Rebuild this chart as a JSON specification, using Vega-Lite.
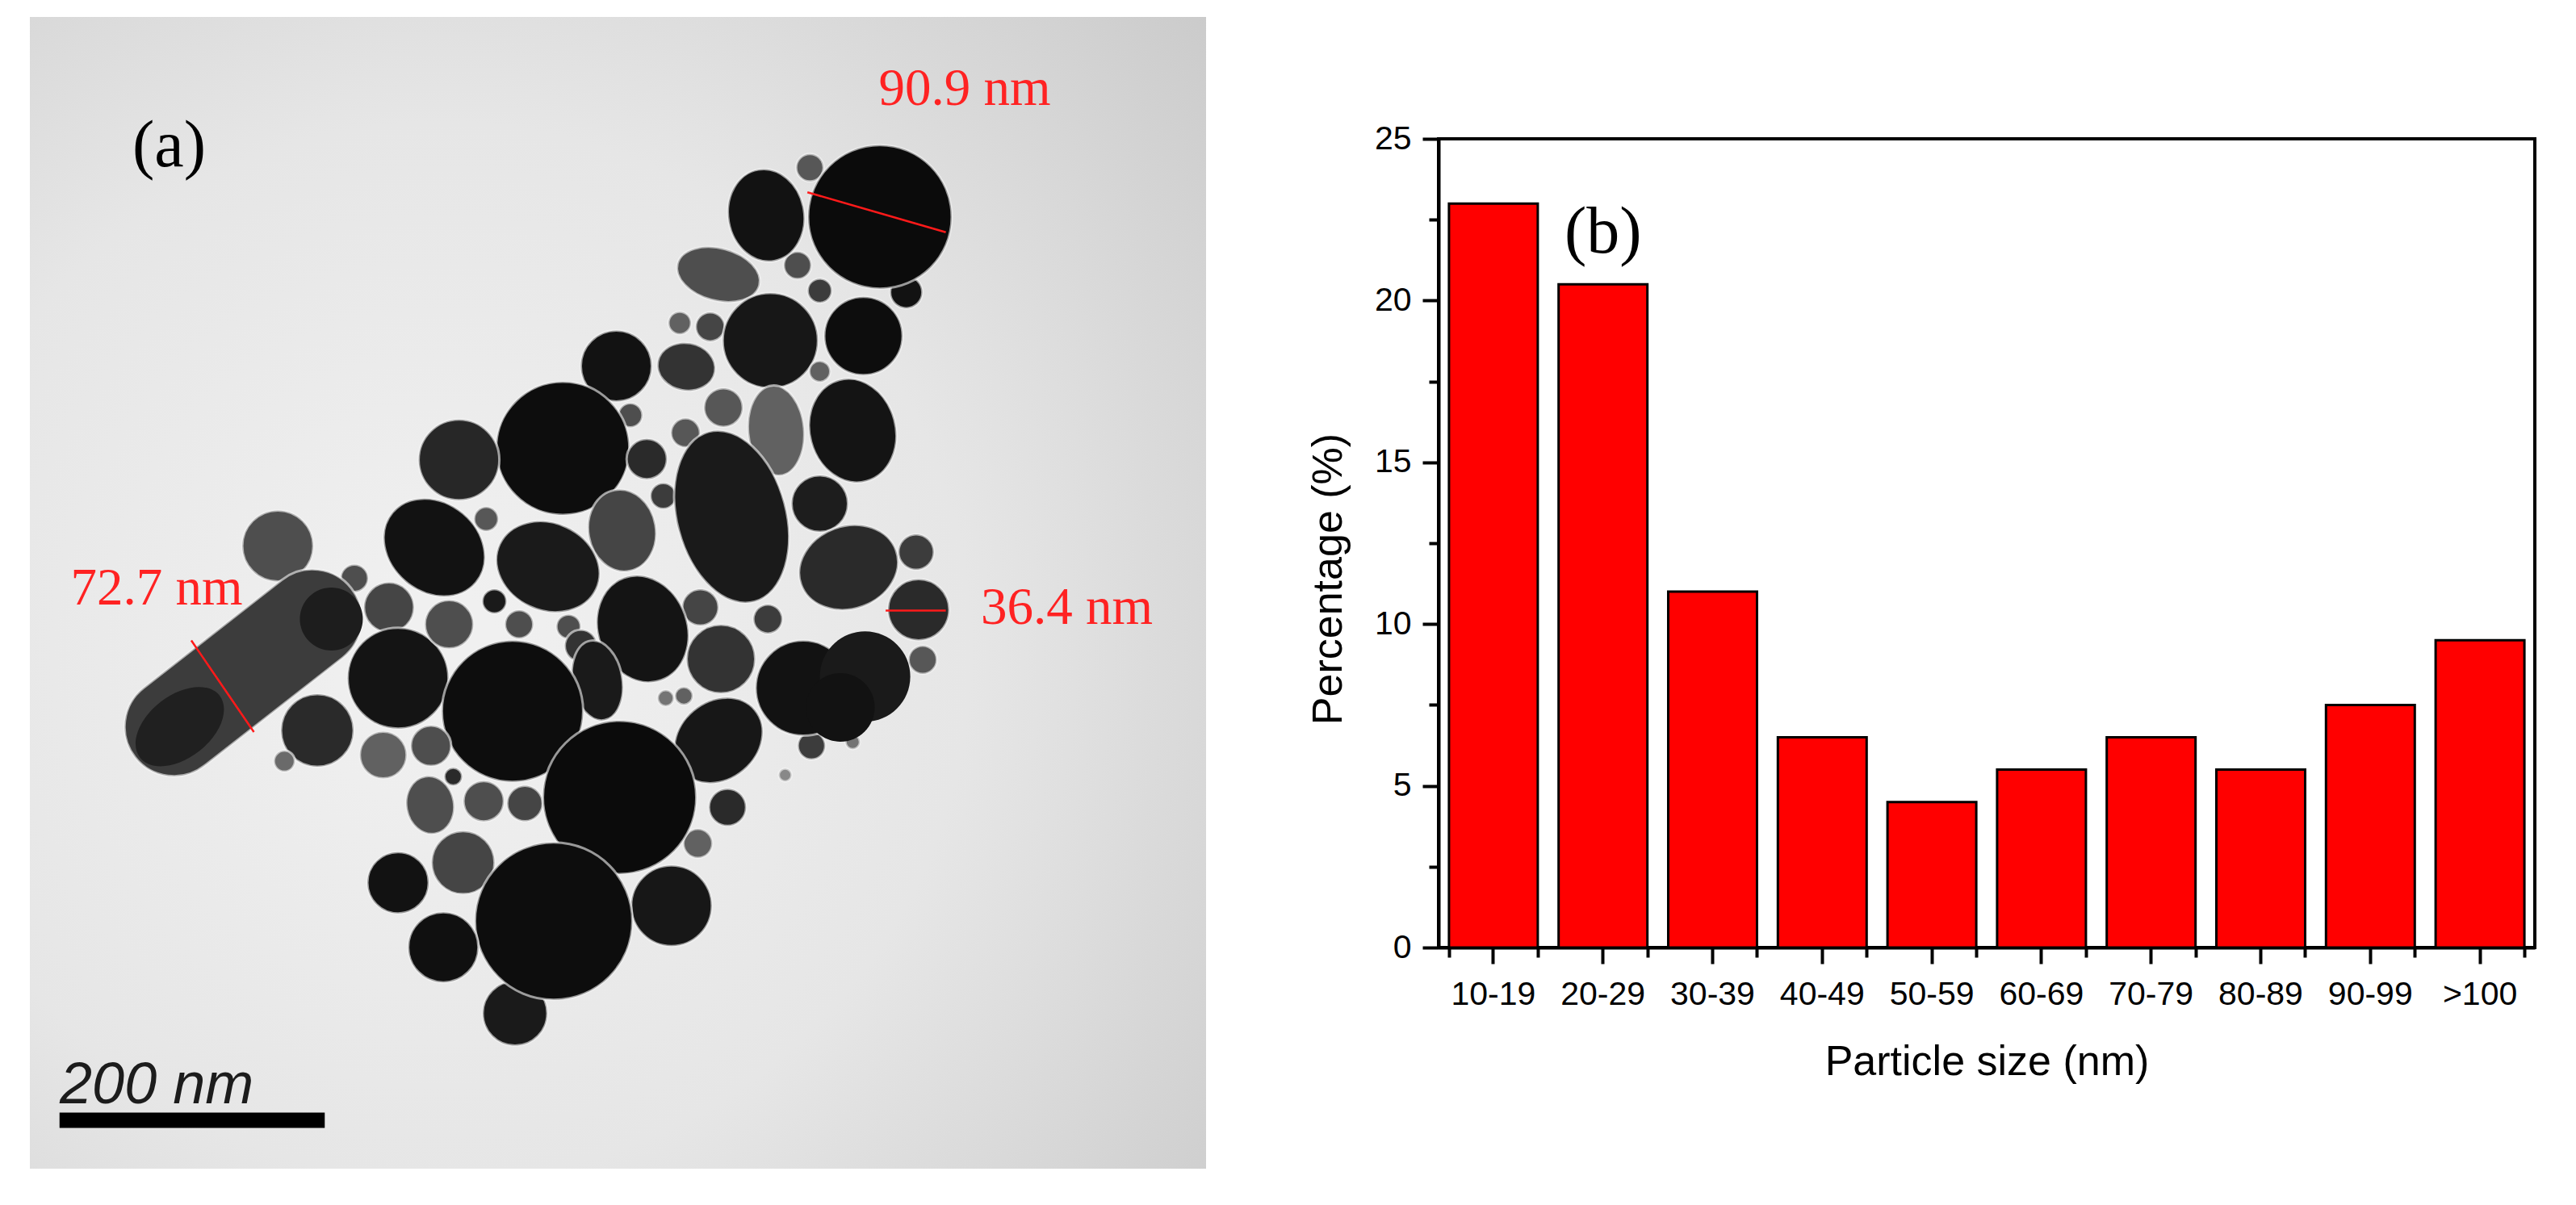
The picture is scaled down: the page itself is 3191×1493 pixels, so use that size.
{
  "$schema": "https://vega.github.io/schema/vega-lite/v6.json",
  "background": "white",
  "padding": {"left": 37, "top": 21, "right": 0, "bottom": 0},
  "spacing": 123,
  "datasets": {
    "film": [{"x0": 36, "x1": 1464, "y0": 22, "y1": 1520}],
    "particles": [
      {"x": 983, "y": 218, "d": 34, "form": "round", "tilt": 0, "tone": 0.45},
      {"x": 1100, "y": 380, "d": 40, "form": "round", "tilt": 0, "tone": 0.05},
      {"x": 968, "y": 345, "d": 34, "form": "round", "tilt": 0, "tone": 0.4},
      {"x": 995, "y": 378, "d": 30, "form": "round", "tilt": 0, "tone": 0.3},
      {"x": 1068, "y": 282, "d": 178, "form": "round", "tilt": 0, "tone": 0.02},
      {"x": 930, "y": 280, "d": 115, "form": "oval", "tilt": 80, "tone": 0.05},
      {"x": 872, "y": 357, "d": 105, "form": "long", "tilt": 15, "tone": 0.4},
      {"x": 825, "y": 420, "d": 28, "form": "round", "tilt": 0, "tone": 0.5},
      {"x": 862, "y": 425, "d": 36, "form": "round", "tilt": 0, "tone": 0.35},
      {"x": 935, "y": 443, "d": 118, "form": "round", "tilt": 0, "tone": 0.08},
      {"x": 1048, "y": 437, "d": 97, "form": "round", "tilt": 0, "tone": 0.03},
      {"x": 833, "y": 477, "d": 72, "form": "oval", "tilt": 10, "tone": 0.25},
      {"x": 748, "y": 476, "d": 88, "form": "round", "tilt": 0, "tone": 0.05},
      {"x": 878, "y": 530, "d": 48, "form": "round", "tilt": 0, "tone": 0.45},
      {"x": 995, "y": 483, "d": 26, "form": "round", "tilt": 0, "tone": 0.5},
      {"x": 942, "y": 560, "d": 112, "form": "long", "tilt": 85, "tone": 0.5},
      {"x": 1035, "y": 560, "d": 130, "form": "oval", "tilt": 75, "tone": 0.06},
      {"x": 765, "y": 540, "d": 30, "form": "round", "tilt": 0, "tone": 0.4},
      {"x": 832, "y": 563, "d": 36, "form": "round", "tilt": 0, "tone": 0.45},
      {"x": 683, "y": 583, "d": 165, "form": "round", "tilt": 0, "tone": 0.03},
      {"x": 557, "y": 598, "d": 100, "form": "round", "tilt": 0, "tone": 0.18},
      {"x": 785, "y": 597, "d": 50, "form": "round", "tilt": 0, "tone": 0.2},
      {"x": 805, "y": 645, "d": 32, "form": "round", "tilt": 0, "tone": 0.3},
      {"x": 590, "y": 675, "d": 30, "form": "round", "tilt": 0, "tone": 0.45},
      {"x": 755, "y": 690, "d": 102, "form": "oval", "tilt": 80, "tone": 0.35},
      {"x": 995, "y": 655, "d": 70, "form": "round", "tilt": 0, "tone": 0.12},
      {"x": 888, "y": 672, "d": 218, "form": "long", "tilt": 75, "tone": 0.1},
      {"x": 527, "y": 712, "d": 135, "form": "oval", "tilt": 40, "tone": 0.05},
      {"x": 665, "y": 737, "d": 132, "form": "oval", "tilt": 25, "tone": 0.1},
      {"x": 1112, "y": 718, "d": 44, "form": "round", "tilt": 0, "tone": 0.3},
      {"x": 1030, "y": 738, "d": 125, "form": "oval", "tilt": 340, "tone": 0.2},
      {"x": 1115, "y": 793, "d": 76, "form": "round", "tilt": 0, "tone": 0.2},
      {"x": 1120, "y": 858, "d": 35, "form": "round", "tilt": 0, "tone": 0.45},
      {"x": 337, "y": 710, "d": 88, "form": "round", "tilt": 0, "tone": 0.4},
      {"x": 430, "y": 752, "d": 34, "form": "round", "tilt": 0, "tone": 0.4},
      {"x": 472, "y": 790, "d": 62, "form": "round", "tilt": 0, "tone": 0.35},
      {"x": 295, "y": 875, "d": 340, "form": "rod", "tilt": 322, "tone": 0.3},
      {"x": 483, "y": 882, "d": 125, "form": "round", "tilt": 0, "tone": 0.06},
      {"x": 600, "y": 782, "d": 30, "form": "round", "tilt": 0, "tone": 0.1},
      {"x": 545, "y": 812, "d": 60, "form": "round", "tilt": 0, "tone": 0.4},
      {"x": 630, "y": 812, "d": 35, "form": "round", "tilt": 0, "tone": 0.4},
      {"x": 690, "y": 815, "d": 30, "form": "round", "tilt": 0, "tone": 0.4},
      {"x": 705, "y": 840, "d": 40, "form": "round", "tilt": 0, "tone": 0.25},
      {"x": 850, "y": 790, "d": 45, "form": "round", "tilt": 0, "tone": 0.35},
      {"x": 932, "y": 805, "d": 36, "form": "round", "tilt": 0, "tone": 0.3},
      {"x": 780, "y": 818, "d": 135, "form": "oval", "tilt": 70, "tone": 0.06},
      {"x": 725, "y": 885, "d": 100, "form": "long", "tilt": 80, "tone": 0.1},
      {"x": 622, "y": 925, "d": 175, "form": "round", "tilt": 0, "tone": 0.03},
      {"x": 875, "y": 857, "d": 85, "form": "round", "tilt": 0, "tone": 0.25},
      {"x": 985, "y": 970, "d": 34, "form": "round", "tilt": 0, "tone": 0.3},
      {"x": 1035, "y": 965, "d": 18, "form": "round", "tilt": 0, "tone": 0.6},
      {"x": 975, "y": 895, "d": 118, "form": "round", "tilt": 0, "tone": 0.05},
      {"x": 385, "y": 950, "d": 90, "form": "round", "tilt": 0, "tone": 0.2},
      {"x": 345, "y": 990, "d": 26, "form": "round", "tilt": 0, "tone": 0.55},
      {"x": 465, "y": 982, "d": 58, "form": "round", "tilt": 0, "tone": 0.5},
      {"x": 523, "y": 970, "d": 50, "form": "round", "tilt": 0, "tone": 0.4},
      {"x": 808, "y": 908, "d": 20, "form": "round", "tilt": 0, "tone": 0.6},
      {"x": 830, "y": 905, "d": 22, "form": "round", "tilt": 0, "tone": 0.5},
      {"x": 872, "y": 963, "d": 118, "form": "oval", "tilt": 320, "tone": 0.08},
      {"x": 522, "y": 1047, "d": 72, "form": "oval", "tilt": 80, "tone": 0.4},
      {"x": 550, "y": 1010, "d": 22, "form": "round", "tilt": 0, "tone": 0.2},
      {"x": 587, "y": 1042, "d": 50, "form": "round", "tilt": 0, "tone": 0.4},
      {"x": 637, "y": 1045, "d": 44, "form": "round", "tilt": 0, "tone": 0.35},
      {"x": 883, "y": 1050, "d": 46, "form": "round", "tilt": 0, "tone": 0.2},
      {"x": 847, "y": 1097, "d": 36, "form": "round", "tilt": 0, "tone": 0.5},
      {"x": 953, "y": 1008, "d": 16, "form": "round", "tilt": 0, "tone": 0.7},
      {"x": 752, "y": 1037, "d": 190, "form": "round", "tilt": 0, "tone": 0.02},
      {"x": 562, "y": 1122, "d": 78, "form": "round", "tilt": 0, "tone": 0.35},
      {"x": 483, "y": 1148, "d": 76, "form": "round", "tilt": 0, "tone": 0.05},
      {"x": 815, "y": 1178, "d": 100, "form": "round", "tilt": 0, "tone": 0.08},
      {"x": 625, "y": 1318, "d": 80, "form": "round", "tilt": 0, "tone": 0.1},
      {"x": 672, "y": 1198, "d": 195, "form": "round", "tilt": 0, "tone": 0.03},
      {"x": 538, "y": 1232, "d": 87, "form": "round", "tilt": 0, "tone": 0.04}
    ],
    "overlaps": [
      {"x": 218, "y": 945, "d": 125, "form": "long", "tilt": 322, "tone": 0.14},
      {"x": 402, "y": 805, "d": 78, "form": "round", "tilt": 0, "tone": 0.12},
      {"x": 1050, "y": 880, "d": 112, "form": "round", "tilt": 0, "tone": 0.1},
      {"x": 1020, "y": 920, "d": 85, "form": "round", "tilt": 0, "tone": 0.05}
    ],
    "measures": [
      {"x": 980, "y": 250, "x2": 1148, "y2": 302},
      {"x": 232, "y": 833, "x2": 308, "y2": 952},
      {"x": 1075, "y": 794, "x2": 1148, "y2": 794}
    ],
    "measureLabels": [
      {"x": 1171, "y": 115, "label": "90.9 nm"},
      {"x": 190, "y": 765, "label": "72.7 nm"},
      {"x": 1295, "y": 790, "label": "36.4 nm"}
    ],
    "bars": [
      {"size": "10-19", "pct": 23},
      {"size": "20-29", "pct": 20.5},
      {"size": "30-39", "pct": 11},
      {"size": "40-49", "pct": 6.5},
      {"size": "50-59", "pct": 4.5},
      {"size": "60-69", "pct": 5.5},
      {"size": "70-79", "pct": 6.5},
      {"size": "80-89", "pct": 5.5},
      {"size": "90-99", "pct": 7.5},
      {"size": ">100", "pct": 9.5}
    ]
  },
  "hconcat": [
    {
      "width": 1457,
      "height": 1427,
      "view": {"stroke": null},
      "encoding": {
        "x": {"field": "x", "type": "quantitative", "axis": null, "scale": {"domain": [36, 1464], "nice": false, "zero": false}},
        "y": {"field": "y", "type": "quantitative", "axis": null, "scale": {"domain": [1520, 22], "nice": false, "zero": false}}
      },
      "layer": [
        {
          "data": {"name": "film"},
          "mark": {
            "type": "rect",
            "color": {
              "gradient": "radial",
              "x1": 0.35, "y1": 0.55, "r1": 0.05,
              "x2": 0.35, "y2": 0.55, "r2": 0.85,
              "stops": [
                {"offset": 0, "color": "#f0f0f0"},
                {"offset": 0.5, "color": "#e6e6e6"},
                {"offset": 1, "color": "#cbcbcb"}
              ]
            }
          },
          "encoding": {
            "x": {"field": "x0", "type": "quantitative"},
            "x2": {"field": "x1"},
            "y": {"field": "y0", "type": "quantitative"},
            "y2": {"field": "y1"}
          }
        },
        {
          "data": {"name": "particles"},
          "mark": {"type": "point", "filled": true, "opacity": 1, "stroke": "#f6f6f6", "strokeWidth": 3, "strokeOpacity": 0.6},
          "encoding": {
            "size": {"field": "d", "type": "quantitative", "legend": null, "scale": {"type": "pow", "exponent": 2, "domain": [0, 400], "range": [0, 160000]}},
            "fill": {"field": "tone", "type": "quantitative", "legend": null, "scale": {"domain": [0, 1], "range": ["#050505", "#c8c8c8"]}},
            "shape": {"field": "form", "type": "nominal", "legend": null, "scale": {
              "domain": ["round", "oval", "long", "rod"],
              "range": [
                "M-1,0A1,1 0 1,1 1,0A1,1 0 1,1 -1,0Z",
                "M-1,0A1,.82 0 1,1 1,0A1,.82 0 1,1 -1,0Z",
                "M-1,0A1,.62 0 1,1 1,0A1,.62 0 1,1 -1,0Z",
                "M-.64,-.36L.64,-.36A.36,.36 0 0,1 .64,.36L-.64,.36A.36,.36 0 0,1 -.64,-.36Z"
              ]
            }},
            "angle": {"field": "tilt", "type": "quantitative", "legend": null, "scale": {"domain": [0, 360], "range": [0, 360]}}
          }
        },
        {
          "data": {"name": "overlaps"},
          "mark": {"type": "point", "filled": true, "opacity": 1, "strokeWidth": 0},
          "encoding": {
            "size": {"field": "d", "type": "quantitative", "legend": null, "scale": {"type": "pow", "exponent": 2, "domain": [0, 400], "range": [0, 160000]}},
            "fill": {"field": "tone", "type": "quantitative", "legend": null, "scale": {"domain": [0, 1], "range": ["#050505", "#c8c8c8"]}},
            "shape": {"field": "form", "type": "nominal", "legend": null, "scale": {
              "domain": ["round", "oval", "long", "rod"],
              "range": [
                "M-1,0A1,1 0 1,1 1,0A1,1 0 1,1 -1,0Z",
                "M-1,0A1,.82 0 1,1 1,0A1,.82 0 1,1 -1,0Z",
                "M-1,0A1,.62 0 1,1 1,0A1,.62 0 1,1 -1,0Z",
                "M-.64,-.36L.64,-.36A.36,.36 0 0,1 .64,.36L-.64,.36A.36,.36 0 0,1 -.64,-.36Z"
              ]
            }},
            "angle": {"field": "tilt", "type": "quantitative", "legend": null, "scale": {"domain": [0, 360], "range": [0, 360]}}
          }
        },
        {
          "data": {"name": "measures"},
          "mark": {"type": "rule", "stroke": "#ff1a1a", "strokeWidth": 2.5},
          "encoding": {
            "x2": {"field": "x2"},
            "y2": {"field": "y2"}
          }
        },
        {
          "data": {"name": "measureLabels"},
          "mark": {"type": "text", "font": "Liberation Serif", "fontSize": 65, "fill": "#ff2222", "align": "center", "baseline": "middle"},
          "encoding": {"text": {"field": "label"}}
        },
        {
          "data": {"values": [{"x": 205, "y": 190, "label": "(a)"}]},
          "mark": {"type": "text", "font": "Liberation Serif", "fontSize": 82, "fill": "black", "align": "center", "baseline": "middle"},
          "encoding": {"text": {"field": "label"}}
        },
        {
          "data": {"values": [{"x": 190, "y": 1412, "label": "200 nm"}]},
          "mark": {"type": "text", "font": "Liberation Sans", "fontStyle": "italic", "fontSize": 72, "fill": "#1c1c1c", "align": "center", "baseline": "middle"},
          "encoding": {"text": {"field": "label"}}
        },
        {
          "data": {"values": [{"x": 72, "y": 1457, "x2": 394}]},
          "mark": {"type": "rule", "stroke": "black", "strokeWidth": 19},
          "encoding": {"x2": {"field": "x2"}}
        }
      ]
    },
    {
      "spacing": 0,
      "vconcat": [
        {
          "width": 1358,
          "height": 128,
          "view": {"stroke": null},
          "data": {"values": []},
          "mark": "point"
        },
        {
          "width": 1358,
          "height": 1002,
          "view": {"stroke": "black", "strokeWidth": 4},
          "resolve": {"axis": {"x": "independent"}},
          "layer": [
            {
              "data": {"name": "bars"},
              "mark": {"type": "bar", "fill": "#ff0000", "stroke": "black", "strokeWidth": 3},
              "encoding": {
                "x": {
                  "field": "size",
                  "type": "nominal",
                  "sort": null,
                  "scale": {"domain": ["10-19", "20-29", "30-39", "40-49", "50-59", "60-69", "70-79", "80-89", "90-99", ">100"], "paddingInner": 0.19, "paddingOuter": 0.095},
                  "axis": {
                    "orient": "bottom",
                    "title": "Particle size (nm)",
                    "titleFont": "Liberation Sans",
                    "titleFontSize": 52,
                    "titleFontWeight": "normal",
                    "titlePadding": 38,
                    "labelFont": "Liberation Sans",
                    "labelFontSize": 41,
                    "labelAngle": 0,
                    "labelColor": "black",
                    "labelPadding": 18,
                    "labelOverlap": false,
                    "domainColor": "black",
                    "domainWidth": 4,
                    "tickColor": "black",
                    "tickWidth": 4,
                    "tickSize": 20,
                    "tickBand": "center"
                  }
                },
                "y": {
                  "field": "pct",
                  "type": "quantitative",
                  "scale": {"domain": [0, 25], "nice": false},
                  "axis": {
                    "title": "Percentage (%)",
                    "titleFont": "Liberation Sans",
                    "titleFontSize": 52,
                    "titleFontWeight": "normal",
                    "titleX": -110,
                    "titleY": 545,
                    "labelFont": "Liberation Sans",
                    "labelFontSize": 41,
                    "labelColor": "black",
                    "labelPadding": 14,
                    "values": [0, 2.5, 5, 7.5, 10, 12.5, 15, 17.5, 20, 22.5, 25],
                    "labelExpr": "datum.value % 5 == 0 ? datum.label : ''",
                    "labelOverlap": false,
                    "grid": false,
                    "domainColor": "black",
                    "domainWidth": 4,
                    "tickColor": "black",
                    "tickWidth": 4,
                    "tickSize": {"condition": {"test": "datum.value % 5 == 0", "value": 20}, "value": 12}
                  }
                }
              }
            },
            {
              "data": {"values": [{"size": "20-29", "pct": 22.1, "label": "(b)"}]},
              "mark": {"type": "text", "font": "Liberation Serif", "fontSize": 82, "fill": "black", "align": "center", "baseline": "middle"},
              "encoding": {
                "x": {
                  "field": "size",
                  "type": "nominal",
                  "sort": null,
                  "axis": {
                    "orient": "bottom",
                    "title": null,
                    "labels": false,
                    "domain": false,
                    "tickColor": "black",
                    "tickWidth": 4,
                    "tickSize": 12,
                    "tickBand": "extent"
                  }
                },
                "y": {"field": "pct", "type": "quantitative"},
                "text": {"field": "label"}
              }
            }
          ]
        }
      ]
    }
  ]
}
